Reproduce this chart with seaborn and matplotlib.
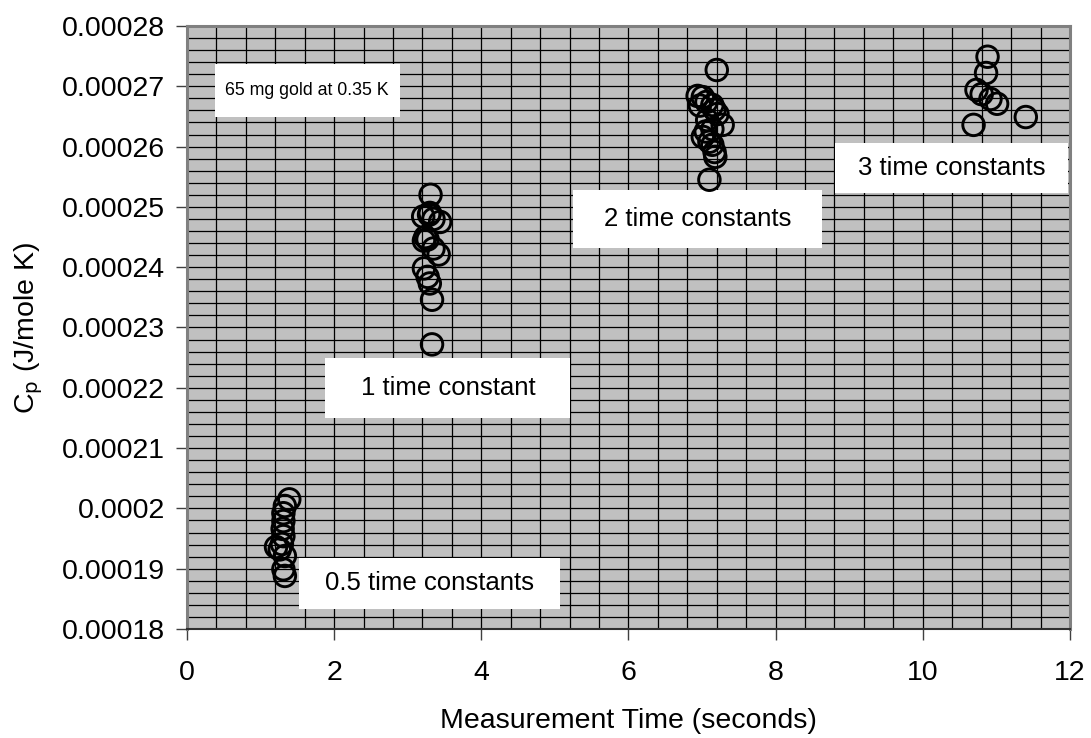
import matplotlib
matplotlib.use('Agg')
import matplotlib.pyplot as plt
from matplotlib.patches import Rectangle
from matplotlib.ticker import MultipleLocator
import numpy as np
import pandas as pd
import seaborn as sns

time_05 = [1.39, 1.33, 1.31, 1.31, 1.30, 1.31, 1.29, 1.26, 1.21, 1.33, 1.31, 1.33]
cp_05 = [0.0002015, 0.0002004, 0.0001992, 0.0001979, 0.0001966, 0.0001954,
         0.0001941, 0.0001932, 0.0001936, 0.0001921, 0.0001899, 0.0001888]

time_1 = [3.31, 3.21, 3.29, 3.35, 3.44, 3.27, 3.22, 3.35, 3.42, 3.22,
          3.27, 3.30, 3.33, 3.33, 3.24, 3.30]
cp_1 = [0.0002520, 0.0002484, 0.0002487, 0.0002480, 0.0002475, 0.0002446,
        0.0002444, 0.0002431, 0.0002421, 0.0002398, 0.0002384, 0.0002373,
        0.0002346, 0.0002272, 0.0002450, 0.0002490]

time_2 = [7.20, 7.01, 7.06, 7.14, 7.17, 7.21, 7.28, 7.14, 7.01, 7.10,
          7.14, 7.17, 7.18, 7.10, 6.94, 6.97, 7.07, 7.05]
cp_2 = [0.0002727, 0.0002682, 0.0002674, 0.0002669, 0.0002661, 0.0002654,
        0.0002636, 0.0002629, 0.0002616, 0.0002608, 0.0002603, 0.0002591,
        0.0002583, 0.0002545, 0.0002684, 0.0002668, 0.0002644, 0.0002625]

time_3 = [10.88, 10.86, 10.73, 10.80, 10.92, 11.01, 11.40, 10.69]
cp_3 = [0.0002749, 0.0002722, 0.0002694, 0.0002687, 0.0002679, 0.0002671,
        0.0002649, 0.0002636]

x_ticks = [0, 2, 4, 6, 8, 10, 12]
y_ticks = [0.00018, 0.00019, 0.00020, 0.00021, 0.00022, 0.00023,
           0.00024, 0.00025, 0.00026, 0.00027, 0.00028]
y_tick_labels = ['0.00018', '0.00019', '0.0002', '0.00021', '0.00022', '0.00023',
                 '0.00024', '0.00025', '0.00026', '0.00027', '0.00028']

# text boxes: label, (x0, x1, y0, y1) in data units, font size
labels = ['65 mg gold at 0.35 K', '1 time constant', '0.5 time constants',
          '2 time constants', '3 time constants']
label_boxes = [(0.38, 2.89, 0.0002649, 0.0002737),
               (1.88, 5.21, 0.0002150, 0.0002249),
               (1.52, 5.07, 0.0001833, 0.0001918),
               (5.25, 8.63, 0.0002432, 0.0002528),
               (8.81, 11.97, 0.0002523, 0.0002606)]
label_sizes = [12.8, 18.5, 18.5, 18.5, 18.5]

df = pd.DataFrame({
    'time': time_05 + time_1 + time_2 + time_3,
    'cp': cp_05 + cp_1 + cp_2 + cp_3,
})

sns.set_style('white')
plt.rcParams['font.family'] = ['Liberation Sans', 'DejaVu Sans']
plt.rcParams['text.color'] = 'black'
plt.rcParams['axes.labelcolor'] = 'black'
plt.rcParams['xtick.color'] = 'black'
plt.rcParams['ytick.color'] = 'black'

fig = plt.figure(figsize=(10.91, 7.38), dpi=100)
ax = fig.add_axes([0.1714, 0.1477, 0.8093, 0.8171])
ax.set_facecolor('#C0C0C0')

ax.set_xlim(0, 12)
ax.set_ylim(0.00018, 0.00028)

# grid
ax.xaxis.set_minor_locator(MultipleLocator(0.4))
ax.yaxis.set_minor_locator(MultipleLocator(0.000002))
ax.grid(which='both', color='black', linewidth=0.9)
ax.set_axisbelow(True)

# label boxes
for text, (x0, x1, y0, y1), fs in zip(labels, label_boxes, label_sizes):
    ax.add_patch(Rectangle((x0, y0), x1 - x0, y1 - y0, facecolor='white',
                           edgecolor='none', zorder=2))
    ax.text((x0 + x1) / 2, (y0 + y1) / 2, text, ha='center', va='center',
            fontsize=fs, zorder=3)

sns.scatterplot(data=df, x='time', y='cp', ax=ax, marker='o', s=240,
                facecolor='none', edgecolor='black', linewidth=2.1, zorder=4)

ax.set_xticks(x_ticks)
ax.set_xticklabels([str(t) for t in x_ticks])
ax.set_yticks(y_ticks)
ax.set_yticklabels(y_tick_labels)
ax.tick_params(which='major', direction='out', length=8, width=1,
               color='#404040', labelsize=20.5, pad=8, left=True, bottom=True)
ax.tick_params(axis='x', pad=14)
ax.tick_params(which='minor', length=0)

for side in ['top', 'right', 'left', 'bottom']:
    ax.spines[side].set_color('#808080')
    ax.spines[side].set_linewidth(2.2)
ax.spines['bottom'].set_color('#303030')
ax.spines['bottom'].set_linewidth(1.5)

ax.set_xlabel('Measurement Time (seconds)', fontsize=20.5, labelpad=16)
ax.set_ylabel('C$_\\mathrm{p}$ (J/mole K)', fontsize=20.5, labelpad=12)

fig.savefig('out.png', dpi=100)
